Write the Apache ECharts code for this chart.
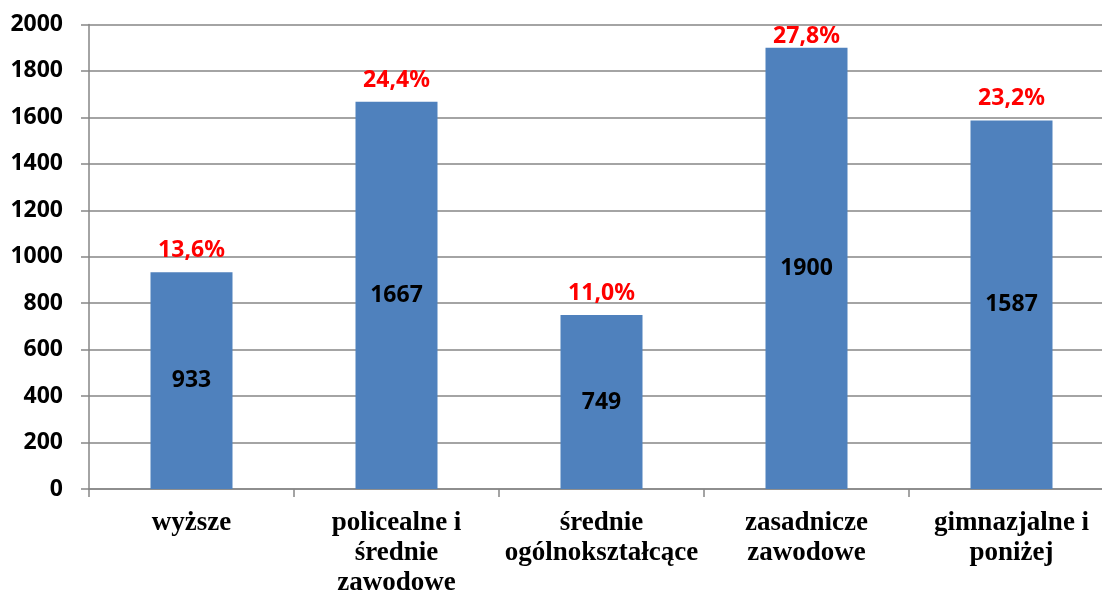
<!DOCTYPE html>
<html><head><meta charset="utf-8">
<script src="https://cdn.jsdelivr.net/npm/echarts@6/dist/echarts.min.js"></script>
<style>html,body{margin:0;padding:0;background:#fff;overflow:hidden;width:1102px;height:590px}#c{display:block;width:1102px;height:590px}</style>
</head><body><div id="c"></div>
<script>
const categories = ['wyższe', 'policealne i\nśrednie\nzawodowe', 'średnie\nogólnokształcące', 'zasadnicze\nzawodowe', 'gimnazjalne i\nponiżej'];
const values = [933, 1667, 749, 1900, 1587];
const percents = ['13,6%', '24,4%', '11,0%', '27,8%', '23,2%'];
const yTicks = { min: 0, max: 2000, interval: 200 };

const chart = echarts.init(document.getElementById('c'));
chart.setOption({
  animation: false,
  grid: { left: 89, width: 1025, top: 24.5, height: 464.5, containLabel: false, outerBoundsMode: 'none' },
  xAxis: {
    type: 'category', data: categories,
    axisLine: { lineStyle: { color: '#868686', width: 1.5 } },
    axisTick: { show: true, length: 8, lineStyle: { color: '#868686', width: 1.5 } },
    axisLabel: { fontFamily: 'Liberation Serif', fontWeight: 'bold', fontSize: 27, lineHeight: 30, color: '#000', margin: 19, interval: 0 }
  },
  yAxis: {
    type: 'value', min: yTicks.min, max: yTicks.max, interval: yTicks.interval,
    axisLine: { show: true, lineStyle: { color: '#868686', width: 1.5 } },
    axisTick: { show: true, length: 8, lineStyle: { color: '#868686', width: 1.5 } },
    splitLine: { lineStyle: { color: '#868686', width: 1.5 } },
    axisLabel: { fontFamily: 'Noto Sans', fontWeight: 'bold', fontSize: 23, color: '#000', margin: 26, formatter: v => String(v) }
  },
  series: [
    {
      type: 'bar', data: values, barWidth: '40%',
      itemStyle: { color: '#4F81BD' },
      label: { show: true, position: 'inside', fontFamily: 'Noto Sans', fontWeight: 'bold', fontSize: 23, color: '#000' }
    },
    {
      type: 'bar', barWidth: '40%', barGap: '-100%', silent: true,
      data: values.map(v => ({ value: v, label: { distance: v > 1850 ? 0 : 10 } })),
      itemStyle: { color: 'rgba(0,0,0,0)' },
      label: { show: true, position: 'top', fontFamily: 'Noto Sans', fontWeight: 'bold', fontSize: 23, color: '#FF0000',
        formatter: p => percents[p.dataIndex] }
    }
  ]
});
</script></body></html>
